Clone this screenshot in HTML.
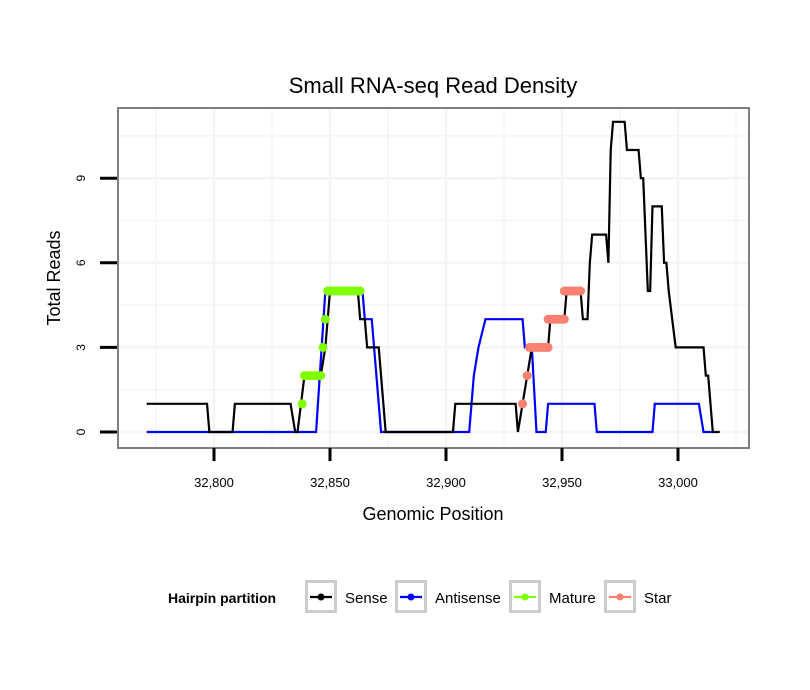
<!DOCTYPE html>
<html><head><meta charset="utf-8"><style>
body{margin:0;background:#fff;}
svg{display:block;font-family:"Liberation Sans",sans-serif;}
</style></head><body>
<svg id="chart" width="810" height="690">
<rect x="0" y="0" width="810" height="690" fill="#fff"/>
<text x="433" y="93" text-anchor="middle" font-size="22">Small RNA-seq Read Density</text>
<g id="grid"></g>
<g id="marks"></g>
<rect x="118" y="108" width="631" height="340" fill="none" stroke="#7f7f7f" stroke-width="2"/>
<g id="axes"></g>
<text x="433" y="520" text-anchor="middle" font-size="18">Genomic Position</text>
<text transform="translate(60,278) rotate(-90)" text-anchor="middle" font-size="18">Total Reads</text>
<g>
<text x="168" y="603" font-size="14" font-weight="bold">Hairpin partition</text>
<g id="legend"></g>
</g>
</svg>
<script>
const xTicks=[32800,32850,32900,32950,33000];
const xTickLabels=["32,800","32,850","32,900","32,950","33,000"];
const yTicks=[0,3,6,9];
const yTickLabels=["0","3","6","9"];
const senseData=[[32771,1],[32797,1],[32798,0],[32808,0],[32809,1],[32833,1],[32835,0],[32836,0],[32839,2],[32846,2],[32848,3],[32849,4],[32850,5],[32862,5],[32863,4],[32865,4],[32866,3],[32871,3],[32872,2],[32874,0],[32903,0],[32904,1],[32930,1],[32931,0],[32933,1],[32935,2],[32937,3],[32944,3],[32945,4],[32951,4],[32952,5],[32958,5],[32959,4],[32961,4],[32962,6],[32963,7],[32969,7],[32970,6],[32971,10],[32972,11],[32977,11],[32978,10],[32983,10],[32984,9],[32985,9],[32987,5],[32988,5],[32989,8],[32993,8],[32994,6],[32995,6],[32996,5],[32999,3],[33011,3],[33012,2],[33013,2],[33015,0],[33018,0]];
const antisenseData=[[32771,0],[32844,0],[32848,5],[32864,5],[32865,4],[32868,4],[32872,0],[32910,0],[32912,2],[32914,3],[32917,4],[32933,4],[32934,3],[32937,3],[32939,0],[32943,0],[32944,1],[32964,1],[32965,0],[32989,0],[32990,1],[33009,1],[33011,0],[33015,0]];
const matureData=[[32838,1],[32839,2],[32840,2],[32841,2],[32842,2],[32843,2],[32844,2],[32845,2],[32846,2],[32847,3],[32848,4],[32849,5],[32850,5],[32851,5],[32852,5],[32853,5],[32854,5],[32855,5],[32856,5],[32857,5],[32858,5],[32859,5],[32860,5],[32861,5],[32862,5],[32863,5]];
const starData=[[32933,1],[32935,2],[32936,3],[32937,3],[32938,3],[32939,3],[32940,3],[32941,3],[32942,3],[32943,3],[32944,3],[32944,4],[32945,4],[32946,4],[32947,4],[32948,4],[32949,4],[32950,4],[32951,4],[32951,5],[32952,5],[32953,5],[32954,5],[32955,5],[32956,5],[32957,5],[32958,5]];
const legendLabels=["Sense","Antisense","Mature","Star"];
const legendColors=["#000000","#0000ff","#7fff00","#fa8072"];

const NS="http://www.w3.org/2000/svg";
const X=v=>214+(v-32800)*2.32;
const Y=v=>432-v*28.2;
function mk(tag,attrs,parent){const e=document.createElementNS(NS,tag);for(const k in attrs)e.setAttribute(k,attrs[k]);parent.appendChild(e);return e;}
const grid=document.getElementById('grid'),axes=document.getElementById('axes'),marks=document.getElementById('marks');
for(let v=32775;v<=33025;v+=25){const px=X(v);if(px<119||px>748)continue;const g=mk('line',{x1:px,x2:px,y1:109,y2:447,stroke:'#f5f5f5','stroke-width':v%50===0?2.5:1.5},grid);

}
for(let v=-1.5;v<=12;v+=1.5){const py=Y(v);if(py<109||py>447)continue;const g=mk('line',{x1:119,x2:748,y1:py,y2:py,stroke:'#f5f5f5','stroke-width':v%3===0?2.5:1.5},grid);

}
xTicks.forEach((v,i)=>{const t=mk('line',{x1:X(v),x2:X(v),y1:448,y2:461,stroke:'#000','stroke-width':3},axes);


const l=mk('text',{x:X(v),y:487,'text-anchor':'middle','font-size':13},axes);l.textContent=xTickLabels[i];

});
yTicks.forEach((v,i)=>{const t=mk('line',{x1:100,x2:117,y1:Y(v),y2:Y(v),stroke:'#000','stroke-width':3},axes);


const l=mk('text',{transform:`translate(85,${Y(v)}) rotate(-90)`,'text-anchor':'middle','font-size':12},axes);l.textContent=yTickLabels[i];

});
function line(data,color,name){const p=mk('polyline',{points:data.map(d=>X(d[0])+','+Y(d[1])).join(' '),fill:'none',stroke:color,'stroke-width':2.2},marks);

}
function pts(data,color,name){data.forEach(d=>{const c=mk('circle',{cx:X(d[0]),cy:Y(d[1]),r:4.5,fill:color},marks);

});}
line(antisenseData,'#0000ff','antisense-line');
line(senseData,'#000000','sense-line');
pts(matureData,'#7fff00','mature-point');
pts(starData,'#fa8072','star-point');
const lg=document.getElementById('legend');
const boxX=[305,395,509,604];
legendLabels.forEach((lab,i)=>{const bx=boxX[i];
const r=mk('rect',{x:bx+1.5,y:581.5,width:29,height:30,fill:'#fff',stroke:'#cccccc','stroke-width':3},lg);


const l=mk('line',{x1:bx+5,x2:bx+27,y1:597,y2:597,stroke:legendColors[i],'stroke-width':2.2},lg);


const c=mk('circle',{cx:bx+16,cy:597,r:3.5,fill:legendColors[i]},lg);


const t=mk('text',{x:bx+40,y:603,'font-size':15},lg);t.textContent=lab;

});
</script>
</body></html>
